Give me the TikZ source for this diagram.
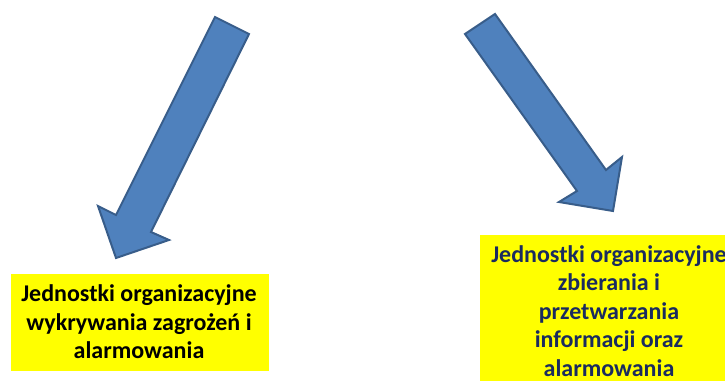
\documentclass[tikz,border=0pt]{standalone}
\usepackage{fontspec}
\setmainfont{Carlito}
\definecolor{arrowfill}{HTML}{4F81BD}
\definecolor{arrowline}{HTML}{385D8A}
\definecolor{boxyellow}{HTML}{FFFF00}
\definecolor{navytext}{HTML}{1A2B5F}
\tikzset{
  blockarrow/.style={fill=arrowfill, draw=arrowline, line width=1.5pt, line join=miter},
  yellowbox/.style={fill=boxyellow, inner sep=0pt, minimum width=193.5pt},
  boxtext/.style={align=center, font=\fontsize{18}{21.4}\selectfont\bfseries, inner sep=0pt},
}
\begin{document}
\begin{tikzpicture}[x=0.75pt,y=-0.75pt]
\useasboundingbox (0,0) rectangle (725,381);
% left arrow
\draw[blockarrow] (215,17) -- (249,34) -- (151,232) -- (169,240) -- (116,258) -- (98,206) -- (116,215) -- cycle;
% right arrow
\draw[blockarrow] (495,14) -- (465,34) -- (577,191) -- (559,202) -- (613,211) -- (622,157) -- (606,170) -- cycle;
% left box
\node[yellowbox, minimum height=72.75pt] (box1) at (140,322.5) {};
\node[boxtext, text=black] (text1) at (139,322) {Jednostki organizacyjne\\wykrywania zagrożeń i\\alarmowania};
% right box
\node[yellowbox, minimum height=120pt] (box2) at (609,315) {};
\node[boxtext, text=navytext, anchor=north] (text2) at (609,245) {Jednostki organizacyjne\\zbierania i\\przetwarzania\\informacji oraz\\alarmowania};
\end{tikzpicture}
\end{document}
